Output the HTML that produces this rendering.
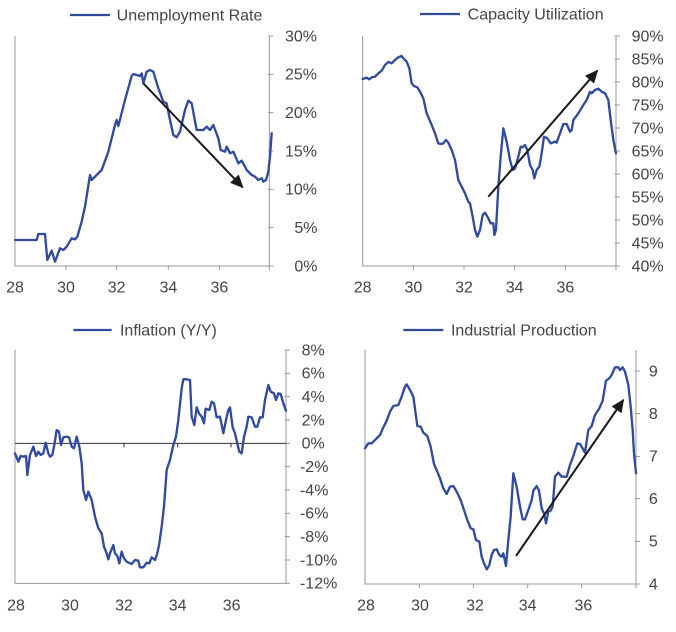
<!DOCTYPE html>
<html><head><meta charset="utf-8"><style>
html,body{margin:0;padding:0;background:#fff;width:676px;height:632px;overflow:hidden}
svg{display:block}
text{font-family:"Liberation Sans",sans-serif;fill:#444}
.s{fill:none;stroke:#2f4a9e;stroke-width:7;stroke-linejoin:round;stroke-linecap:round}
.ax{stroke:#9a9a9a;stroke-width:3;fill:none}
.ar{stroke:#1a1a1a;stroke-width:6;fill:none}
.t{font-size:48px}
.lg{font-size:48px}
</style></head><body>
<svg width="676" height="632" viewBox="0 0 676 632" xmlns="http://www.w3.org/2000/svg">
<defs>
<marker id="ah" markerUnits="userSpaceOnUse" markerWidth="44" markerHeight="40" refX="36" refY="18" orient="auto">
<path d="M0,0 L40,18 L0,36 Z" fill="#1a1a1a"/>
</marker>
</defs>

<g transform="translate(0,0) scale(0.33333)">
<path class="ax" d="M45,108 L45,798 L808,798 M808,108 L808,798"/>
<path class="ax" d="M804,108 H820 M804,223 H820 M804,338 H820 M804,453 H820 M804,568 H820 M804,683 H820 M804,798 H820 M198,798 V810 M350,798 V810 M505,798 V810 M658,798 V810 M808,798 V810"/>
<g class="t">
<text x="855" y="124">30%</text><text x="855" y="239">25%</text><text x="855" y="354">20%</text><text x="855" y="469">15%</text><text x="855" y="584">10%</text><text x="883" y="699">5%</text><text x="883" y="814">0%</text>
</g>
<g class="t" text-anchor="middle">
<text x="45" y="877">28</text><text x="198" y="877">30</text><text x="350" y="877">32</text><text x="505" y="877">34</text><text x="658" y="877">36</text>
</g>
<path d="M210,45 H330" stroke="#2f4a9e" stroke-width="7"/>
<text class="lg" x="350" y="61">Unemployment Rate</text>
<path class="s" d="M45,720 L110,720 L115,702 L135,702 L142,780 L155,752 L165,785 L180,745 L190,750 L200,740 L215,715 L225,718 L232,710 L245,665 L255,620 L270,525 L275,540 L290,525 L305,510 L325,455 L345,375 L350,360 L355,378 L375,300 L395,228 L400,222 L420,228 L425,220 L430,250 L440,215 L450,210 L460,215 L475,265 L490,305 L500,310 L510,360 L520,405 L530,412 L540,395 L555,330 L565,302 L575,310 L590,390 L610,390 L620,380 L630,390 L640,375 L655,415 L662,450 L675,455 L680,440 L690,460 L700,455 L710,478 L715,490 L725,482 L735,500 L740,510 L755,525 L765,530 L775,540 L785,535 L790,545 L798,540 L805,515 L810,470 L815,400"/>
<path class="ar" d="M430,250 L728,562" marker-end="url(#ah)"/>
</g>

<g transform="translate(340,0) scale(0.33333)">
<path class="ax" d="M68,108 L68,798 L828,798 M828,108 L828,798"/>
<path class="ax" d="M824,108 H840 M824,177 H840 M824,246 H840 M824,315 H840 M824,384 H840 M824,453 H840 M824,522 H840 M824,591 H840 M824,660 H840 M824,729 H840 M824,798 H840 M220,798 V810 M372,798 V810 M524,798 V810 M676,798 V810 M828,798 V810"/>
<g class="t">
<text x="875" y="124">90%</text><text x="875" y="193">85%</text><text x="875" y="262">80%</text><text x="875" y="331">75%</text><text x="875" y="400">70%</text><text x="875" y="469">65%</text><text x="875" y="538">60%</text><text x="875" y="607">55%</text><text x="875" y="676">50%</text><text x="875" y="745">45%</text><text x="875" y="814">40%</text>
</g>
<g class="t" text-anchor="middle">
<text x="68" y="877">28</text><text x="220" y="877">30</text><text x="372" y="877">32</text><text x="524" y="877">34</text><text x="676" y="877">36</text>
</g>
<path d="M240,42 H360" stroke="#2f4a9e" stroke-width="7"/>
<text class="lg" x="383" y="58">Capacity Utilization</text>
<path class="s" d="M68,237 L80,233 L88,238 L95,232 L105,230 L115,220 L125,212 L135,195 L145,186 L155,190 L165,180 L175,172 L185,168 L190,175 L200,185 L208,205 L215,250 L222,258 L232,262 L240,275 L250,295 L260,340 L275,375 L285,400 L295,430 L303,432 L310,430 L318,420 L325,428 L335,450 L345,480 L355,540 L365,560 L375,580 L385,605 L390,610 L398,650 L405,690 L412,710 L420,690 L428,645 L435,638 L445,655 L452,670 L460,670 L463,705 L468,690 L475,560 L482,470 L490,385 L500,425 L510,480 L518,510 L525,505 L535,470 L542,440 L548,442 L555,435 L562,450 L570,495 L578,510 L583,535 L590,510 L598,500 L605,460 L612,410 L622,415 L632,430 L645,425 L650,428 L660,400 L670,372 L680,372 L690,395 L695,390 L700,360 L715,340 L730,315 L740,300 L750,275 L755,280 L765,270 L775,266 L785,275 L795,280 L805,300 L812,360 L820,420 L828,460"/>
<path class="ar" d="M445,590 L772,212" marker-end="url(#ah)"/>
</g>

<g transform="translate(0,320) scale(0.33333)">
<path class="ax" d="M45,90 L45,790 L858,790 M858,90 L858,790"/>
<path class="ax" d="M854,90 H870 M854,160 H870 M854,230 H870 M854,300 H870 M854,370 H870 M854,440 H870 M854,510 H870 M854,580 H870 M854,650 H870 M854,720 H870 M854,790 H870"/>
<path d="M45,370 H858 M372,370 V382 M533,370 V382 M693,370 V382" stroke="#333" stroke-width="3"/>
<g class="t">
<text x="905" y="106">8%</text><text x="905" y="176">6%</text><text x="905" y="246">4%</text><text x="905" y="316">2%</text><text x="905" y="386">0%</text><text x="900" y="456">-2%</text><text x="900" y="526">-4%</text><text x="900" y="596">-6%</text><text x="900" y="666">-8%</text><text x="900" y="736">-10%</text><text x="900" y="806">-12%</text>
</g>
<g class="t" text-anchor="middle">
<text x="48" y="872">28</text><text x="210" y="872">30</text><text x="372" y="872">32</text><text x="533" y="872">34</text><text x="695" y="872">36</text>
</g>
<path d="M220,30 H335" stroke="#2f4a9e" stroke-width="7"/>
<text class="lg" x="360" y="46">Inflation (Y/Y)</text>
<path class="s" d="M45,400 L55,425 L62,408 L70,410 L78,408 L82,465 L90,405 L100,380 L108,408 L115,395 L122,405 L130,400 L137,368 L145,400 L150,410 L157,405 L163,375 L170,330 L177,335 L183,375 L190,352 L200,350 L207,352 L215,380 L222,385 L230,350 L238,380 L245,430 L250,510 L258,540 L265,515 L275,540 L285,590 L295,625 L305,640 L312,680 L320,700 L325,718 L330,700 L340,675 L345,700 L352,708 L358,730 L365,695 L372,715 L380,725 L395,732 L405,720 L415,722 L420,742 L430,742 L440,728 L448,730 L455,712 L465,720 L472,700 L478,670 L485,620 L492,560 L500,450 L510,420 L520,375 L528,350 L535,300 L545,205 L550,178 L560,178 L570,180 L575,290 L583,315 L590,262 L598,282 L605,290 L612,310 L617,266 L628,270 L635,245 L642,250 L650,292 L660,290 L670,340 L678,300 L685,270 L690,262 L698,322 L705,340 L712,370 L718,395 L725,400 L732,350 L740,320 L745,290 L755,292 L765,320 L772,320 L780,292 L788,292 L795,240 L805,195 L812,215 L822,220 L828,240 L835,220 L842,222 L850,250 L858,272"/>
</g>

<g transform="translate(340,320) scale(0.33333)">
<path class="ax" d="M75,90 L75,792 L888,792 M888,90 L888,792"/>
<path class="ax" d="M884,153 H900 M884,281 H900 M884,409 H900 M884,536 H900 M884,664 H900 M884,792 H900 M238,792 V804 M400,792 V804 M563,792 V804 M725,792 V804 M888,792 V804"/>
<g class="t" text-anchor="middle">
<text x="940" y="169">9</text><text x="940" y="297">8</text><text x="940" y="425">7</text><text x="940" y="552">6</text><text x="940" y="680">5</text><text x="940" y="808">4</text>
<text x="78" y="872">28</text><text x="240" y="872">30</text><text x="405" y="872">32</text><text x="563" y="872">34</text><text x="730" y="872">36</text>
</g>
<path d="M190,30 H310" stroke="#2f4a9e" stroke-width="7"/>
<text class="lg" x="333" y="46">Industrial Production</text>
<path class="s" d="M75,385 L85,370 L95,370 L100,365 L110,355 L120,345 L130,322 L140,302 L150,275 L160,258 L175,255 L185,230 L195,200 L200,193 L210,210 L220,230 L232,318 L242,320 L250,338 L262,348 L272,380 L282,432 L292,455 L300,475 L310,505 L320,522 L330,500 L340,498 L350,515 L362,540 L372,570 L382,600 L392,625 L400,628 L408,660 L418,665 L425,710 L432,730 L440,748 L448,735 L455,705 L462,690 L470,688 L478,705 L485,710 L490,700 L498,738 L505,660 L512,590 L520,460 L530,500 L540,560 L548,598 L555,598 L565,570 L575,540 L580,512 L590,498 L597,512 L605,565 L612,580 L618,610 L625,575 L632,572 L638,560 L645,470 L655,458 L665,470 L680,470 L690,435 L700,408 L712,370 L720,372 L728,385 L735,398 L745,330 L755,318 L765,285 L778,265 L788,242 L798,182 L808,175 L815,165 L825,142 L835,142 L840,150 L848,142 L855,155 L865,195 L872,260 L878,330 L882,400 L888,460"/>
<path class="ar" d="M528,708 L850,240" marker-end="url(#ah)"/>
</g>
</svg>
</body></html>
